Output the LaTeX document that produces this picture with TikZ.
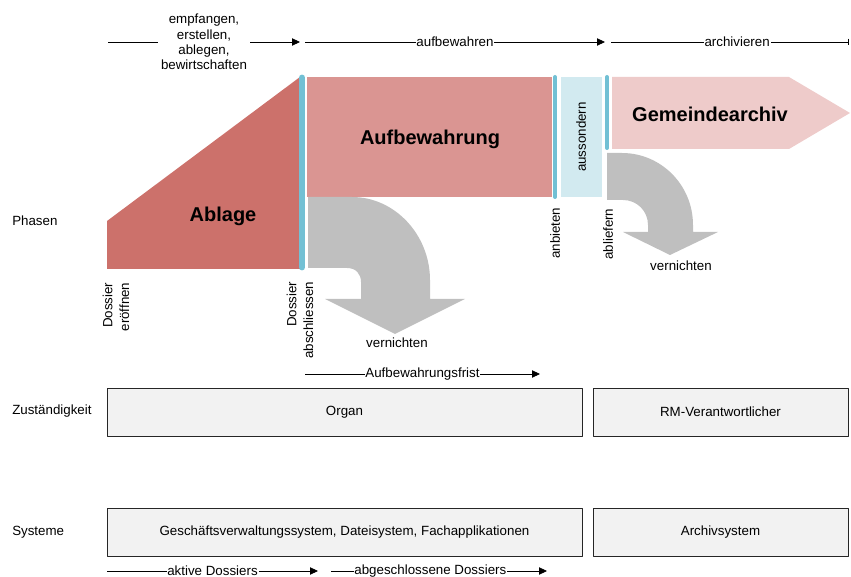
\documentclass[tikz,border=0pt]{standalone}
\usepackage{fontspec}
\setmainfont{Liberation Sans}
\usetikzlibrary{arrows.meta}
\definecolor{ablagerot}{HTML}{CC716B}
\definecolor{aufbewrot}{HTML}{DA9592}
\definecolor{archivrot}{HTML}{EECBCA}
\definecolor{balkenblau}{HTML}{72C0D4}
\definecolor{hellblau}{HTML}{D2EAF0}
\definecolor{pfeilgrau}{HTML}{BFBFBF}
\definecolor{kastengrau}{HTML}{F2F2F2}
\begin{document}
\begin{tikzpicture}[x=0.75pt, y=-0.75pt, line join=round, >={Triangle[length=6pt,width=5.5pt]}, font=\fontsize{10}{11.6}\selectfont,
	zeit/.style={->, line width=0.6pt},
	lbl/.style={fill=white, inner sep=0.6pt},
	titel/.style={font=\fontsize{15}{18}\selectfont\bfseries},
	kasten/.style={draw=black!85, fill=kastengrau, line width=0.6pt, minimum height=36pt, inner sep=0pt},
	balken/.style={draw=balkenblau, line cap=round},
	senk/.style={rotate=90, inner sep=1pt}]
	\useasboundingbox (0,0) rectangle (851,577);
	% Zeitachse oben
	\coordinate (a0) at (108,42); \coordinate (a1) at (300,42);
	\coordinate (b0) at (305,42); \coordinate (b1) at (605,42);
	\coordinate (c0) at (611,42); \coordinate (c1) at (849,42);
	\draw[zeit] (a0) -- (a1) node[midway, fill=white, inner sep=2pt, align=center] (bewirt) {empfangen,\\erstellen,\\ablegen,\\bewirtschaften};
	\draw[zeit] (b0) -- (b1) node[midway, lbl] (aufbewahren) {aufbewahren};
	\draw[zeit, -{Bar[width=5pt]}] (c0) -- (c1) node[pos=0.53, lbl] (archivieren) {archivieren};
	% Phasen
	\fill[ablagerot] (107,221) -- (300,77) -- (300,269) -- (107,269) -- cycle;
	\fill[aufbewrot] (307,77) rectangle (552,197);
	\fill[hellblau] (561,77) rectangle (602,197);
	\fill[archivrot] (612,77) -- (789,77) -- (850,113) -- (789,149) -- (612,149) -- cycle;
	\fill[pfeilgrau] (308,197) -- (352,197) .. controls (395,197) and (430,235) .. (430,280) -- (430,299)
		-- (465,299) -- (395,334) -- (325,299) -- (361,299) -- (361,282) .. controls (361,274) and (356,268) .. (347,268) -- (308,268) -- cycle;
	\fill[pfeilgrau] (607,153) -- (622,153) .. controls (661,153) and (693,185) .. (693,225) -- (693,232)
		-- (718,232) -- (670,255) -- (623,232) -- (648,232) -- (648,225) .. controls (648,211) and (637,200) .. (623,200) -- (607,200) -- cycle;
	\draw[balken, line width=5.2pt] (302,78) -- (302,267);
	\draw[balken, line width=3pt] (555,77) -- (555,197);
	\draw[balken, line width=3pt] (607,77) -- (607,148);
	\node[titel] (ablage) at (223,216) {Ablage};
	\node[titel] (aufbewahrung) at (430,139) {Aufbewahrung};
	\node[titel] (archiv) at (710,114) {Gemeindearchiv};
	\node[senk] (aussondern) at (581,137) {aussondern};
	\node[senk, anchor=east] (anbieten) at (555,206) {anbieten};
	\node[senk, anchor=east] (abliefern) at (608,207) {abliefern};
	\node[senk, anchor=east, align=right, font=\fontsize{10}{12.6}\selectfont] (eroeffnen) at (116,281) {Dossier\\eröffnen};
	\node[senk, anchor=east, align=right, font=\fontsize{10}{12.6}\selectfont] (abschliessen) at (300,280) {Dossier\\abschliessen};
	\node (vernichtenA) at (397,343) {vernichten};
	\node (vernichtenB) at (681,266) {vernichten};
	% Frist
	\coordinate (f0) at (305,374); \coordinate (f1) at (540,374);
	\draw[zeit] (f0) -- (f1) node[midway, lbl] (frist) {Aufbewahrungsfrist};
	% Zeilen
	\node[anchor=west, inner sep=0pt] (phasen) at (12,221) {Phasen};
	\node[anchor=west, inner sep=0pt] (zustaendig) at (12,411) {Zuständigkeit};
	\node[anchor=west, inner sep=0pt] (systeme) at (12,532) {Systeme};
	\node[kasten, minimum width=356.25pt] (organ) at (344.5,412) {Organ};
	\node[kasten, minimum width=191.25pt] (rm) at (720.5,412) {RM-Verantwortlicher};
	\node[kasten, minimum width=356.25pt] (gever) at (344.5,532) {Geschäftsverwaltungssystem, Dateisystem, Fachapplikationen};
	\node[kasten, minimum width=191.25pt] (archivsys) at (720.5,532) {Archivsystem};
	% Zeitachse unten
	\coordinate (d0) at (107,571); \coordinate (d1) at (318,571);
	\coordinate (e0) at (331,571); \coordinate (e1) at (547,571);
	\draw[zeit] (d0) -- (d1) node[midway, lbl] (aktiv) {aktive Dossiers};
	\draw[zeit] (e0) -- (e1) node[pos=0.46, lbl] (abgeschl) {abgeschlossene Dossiers};
\end{tikzpicture}
\end{document}
